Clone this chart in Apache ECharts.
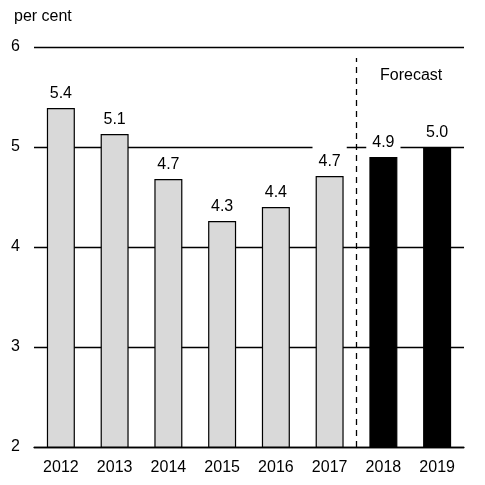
<!DOCTYPE html>
<html>
<head>
<meta charset="utf-8">
<script src="https://cdn.jsdelivr.net/npm/echarts@6/dist/echarts.min.js"></script>
<style>
  html, body { margin: 0; padding: 0; background: #fff; }
  #chart { width: 485px; height: 485px; }
</style>
</head>
<body>
<div id="chart"></div>
<script>
// values
const years = ['2012', '2013', '2014', '2015', '2016', '2017', '2018', '2019'];
const rates = [5.39, 5.13, 4.68, 4.26, 4.40, 4.71, 4.90, 5.00];
const forecastFrom = 6;          // index of first forecast year
const dividerY = [2, 5.89];      // extent of the dashed divider

const font = 'Liberation Sans, Arial, sans-serif';

let barData = rates.map(function (v, i) {
  let item = { value: v };
  if (i >= forecastFrom) {
    item.itemStyle = { color: '#000', borderColor: '#000' };
  }
  // these two labels sit in a white box which breaks the 5% line
  if (i == forecastFrom - 1 || i == forecastFrom) {
    item.label = { backgroundColor: '#fff', padding: [11, 6, 4, 6], distance: 2 };
  }
  return item;
});

let chart = echarts.init(document.getElementById('chart'));
chart.setOption({
  backgroundColor: '#fff',
  animation: false,
  textStyle: { fontFamily: font },
  grid: { left: 34, right: 21, top: 47, bottom: 38 },
  graphic: [{
    type: 'text', left: 14, top: 9,
    style: { text: 'per cent', fontSize: 16, fill: '#000', fontFamily: font }
  }, {
    type: 'text', left: 380, top: 68,
    style: { text: 'Forecast', fontSize: 16, fill: '#000', fontFamily: font }
  }],
  xAxis: [{
    type: 'category',
    data: years,
    axisTick: { show: false },
    axisLine: { lineStyle: { color: '#000', width: 1.3 } },
    axisLabel: { color: '#000', fontSize: 16, margin: 13 }
  }, {
    type: 'value', min: 0, max: years.length, show: false
  }],
  yAxis: {
    type: 'value',
    min: 2, max: 6, interval: 1,
    axisLine: { show: false },
    axisTick: { show: false },
    axisLabel: { color: '#000', fontSize: 16, margin: 14 },
    splitLine: { lineStyle: { color: '#000', width: 1.3 } }
  },
  series: [{
    type: 'bar',
    data: barData,
    barWidth: 28,
    itemStyle: { color: '#d9d9d9', borderColor: '#000', borderWidth: 1.2 },
    label: {
      show: true, position: 'top', distance: 6,
      color: '#000', fontSize: 16,
      formatter: function (p) { return p.value.toFixed(1); }
    },
    z: 3
  }, {
    type: 'line',
    xAxisIndex: 1,
    data: dividerY.map(function (y) { return [forecastFrom, y]; }),
    symbol: 'none',
    lineStyle: { color: '#000', width: 1.3, type: [6, 5] },
    z: 2
  }]
});
</script>
</body>
</html>
